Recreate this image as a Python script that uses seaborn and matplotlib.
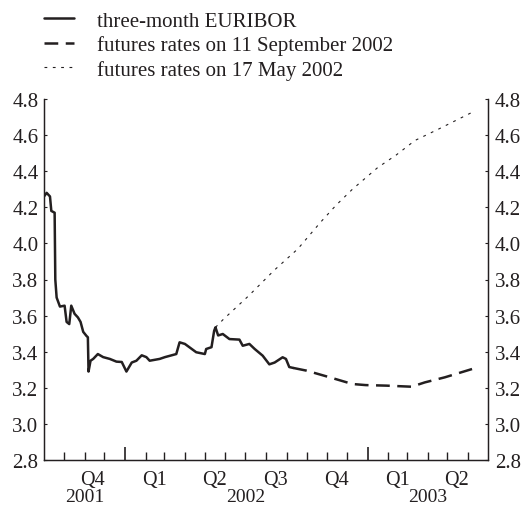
import pandas as pd
import matplotlib
matplotlib.use('Agg')
import matplotlib.pyplot as plt
import seaborn as sns

# three-month EURIBOR
euribor_dates = ['2001-09-01', '2001-09-05', '2001-09-10', '2001-09-12', '2001-09-17', '2001-09-18',
                 '2001-09-20', '2001-09-25', '2001-10-02', '2001-10-05', '2001-10-09', '2001-10-12',
                 '2001-10-17', '2001-10-22', '2001-10-26', '2001-10-30', '2001-11-04', '2001-11-06',
                 '2001-11-07', '2001-11-10', '2001-11-14', '2001-11-21', '2001-11-29', '2001-12-09',
                 '2001-12-19', '2001-12-27', '2002-01-03', '2002-01-11', '2002-01-18', '2002-01-26',
                 '2002-02-02', '2002-02-07', '2002-02-22', '2002-03-02', '2002-03-19', '2002-03-24',
                 '2002-04-01', '2002-04-18', '2002-05-01', '2002-05-03', '2002-05-11', '2002-05-15',
                 '2002-05-17', '2002-05-21', '2002-05-28', '2002-06-07', '2002-06-22', '2002-06-27',
                 '2002-07-07', '2002-07-15', '2002-07-27', '2002-08-06', '2002-08-14', '2002-08-26',
                 '2002-08-31', '2002-09-05', '2002-09-11']
euribor_values = [4.26, 4.28, 4.26, 4.18, 4.17, 3.80,
                  3.70, 3.65, 3.655, 3.565, 3.553, 3.655,
                  3.61, 3.59, 3.565, 3.51, 3.487, 3.48,
                  3.29, 3.35, 3.36, 3.387, 3.37, 3.36,
                  3.345, 3.343, 3.29, 3.34, 3.35, 3.38,
                  3.37, 3.35, 3.36, 3.37, 3.387, 3.452,
                  3.443, 3.397, 3.387, 3.415, 3.425, 3.516,
                  3.535, 3.49, 3.498, 3.47, 3.467, 3.433,
                  3.443, 3.415, 3.378, 3.33, 3.34, 3.369,
                  3.36, 3.315, 3.31]

# futures rates on 11 September 2002
sep_dates = ['2002-09-11', '2002-10-01', '2002-11-05', '2002-12-09', '2002-12-29',
             '2003-01-29', '2003-03-08', '2003-03-28', '2003-04-27', '2003-06-07']
sep_values = [3.31, 3.295, 3.258, 3.221, 3.215, 3.212, 3.206, 3.23, 3.258, 3.304]

# futures rates on 17 May 2002
may_dates = ['2002-05-17', '2002-05-29', '2002-07-06', '2002-08-13', '2002-09-18', '2002-10-22',
             '2002-11-14', '2002-12-09', '2003-01-16', '2003-02-13', '2003-03-13', '2003-04-18',
             '2003-06-07']
may_values = [3.535, 3.58, 3.71, 3.85, 3.97, 4.117, 4.21, 4.30, 4.42, 4.49, 4.57, 4.634, 4.726]

quarter_labels = ['Q4', 'Q1', 'Q2', 'Q3', 'Q4', 'Q1', 'Q2']
quarter_mid = ['2001-11-13', '2002-02-15', '2002-05-15', '2002-08-15', '2002-11-15', '2003-02-15', '2003-05-15']
year_labels = ['2001', '2002', '2003']
year_mid = ['2001-11-01', '2002-07-01', '2003-04-01']
y_ticks = [2.8, 3.0, 3.2, 3.4, 3.6, 3.8, 4.0, 4.2, 4.4, 4.6, 4.8]

legend_labels = ['three-month EURIBOR', 'futures rates on 11 September 2002', 'futures rates on 17 May 2002']

sns.set_style('ticks')
ink = '#231f20'
plt.rcParams['font.family'] = ['Liberation Serif', 'DejaVu Serif']
plt.rcParams['font.size'] = 15
plt.rcParams['text.color'] = ink
plt.rcParams['axes.edgecolor'] = ink
plt.rcParams['xtick.color'] = ink
plt.rcParams['ytick.color'] = ink

fig = plt.figure(figsize=(5.24, 5.06), dpi=100)
ax = fig.add_axes([44 / 524, 45 / 506, 444 / 524, 361 / 506])

eur = pd.DataFrame({'date': pd.to_datetime(euribor_dates), 'rate': euribor_values})
sep = pd.DataFrame({'date': pd.to_datetime(sep_dates), 'rate': sep_values})
may = pd.DataFrame({'date': pd.to_datetime(may_dates), 'rate': may_values})

sns.lineplot(data=may, x='date', y='rate', ax=ax, color=ink, linewidth=0.8)
l_may = ax.lines[-1]
l_may.set_dashes((2.5, 5))
sns.lineplot(data=sep, x='date', y='rate', ax=ax, color=ink, linewidth=1.8)
l_sep = ax.lines[-1]
l_sep.set_dashes((5.5, 3))
sns.lineplot(data=eur, x='date', y='rate', ax=ax, color=ink, linewidth=1.8)
l_eur = ax.lines[-1]

ax.set_xlim(pd.Timestamp('2001-09-01'), pd.Timestamp('2003-07-01'))
ax.set_ylim(2.8, 4.8)
ax.set_xlabel('')
ax.set_ylabel('')
ax.set_yticks(y_ticks)
ax.set_yticklabels([f'{v:.1f}' for v in y_ticks])
ax.tick_params(axis='y', direction='in', length=2.5, width=0.8, pad=4, labelsize=15)

# quarter names between the month ticks
ax.set_xticks(pd.to_datetime(quarter_mid))
ax.set_xticklabels(quarter_labels)
ax.tick_params(axis='x', which='both', length=0, pad=7, labelsize=14.5)

# month ticks pointing into the plot, taller at the year boundaries
months = pd.date_range('2001-10-01', '2003-06-01', freq='MS')
short = [m for m in months if m.month != 1]
tall = [m for m in months if m.month == 1]
ax.vlines(short, 0, 8 / 361, transform=ax.get_xaxis_transform(), color=ink, linewidth=1.0)
ax.vlines(tall, 0, 13 / 361, transform=ax.get_xaxis_transform(), color=ink, linewidth=1.2)

for lab, d in zip(year_labels, year_mid):
    ax.text(pd.Timestamp(d), (461 - 502) / 361, lab, transform=ax.get_xaxis_transform(),
            ha='center', va='baseline', fontsize=14)

ax2 = ax.twinx()
ax2.set_ylim(2.8, 4.8)
ax2.set_yticks(y_ticks)
ax2.set_yticklabels([f'{v:.1f}' for v in y_ticks])
ax2.tick_params(axis='y', direction='in', length=2.5, width=0.8, pad=5, labelsize=15)

for a in (ax, ax2):
    a.spines['top'].set_visible(False)
    for s in ('left', 'right', 'bottom'):
        a.spines[s].set_linewidth(0.9)

fig.legend([l_eur, l_sep, l_may], legend_labels, loc='upper left',
           bbox_to_anchor=(44 / 524, 1 - 12 / 506), frameon=False,
           handlelength=1.45, handletextpad=1.1, labelspacing=0.22,
           borderaxespad=0, borderpad=0, fontsize=15)

fig.savefig('out.png', dpi=100)
